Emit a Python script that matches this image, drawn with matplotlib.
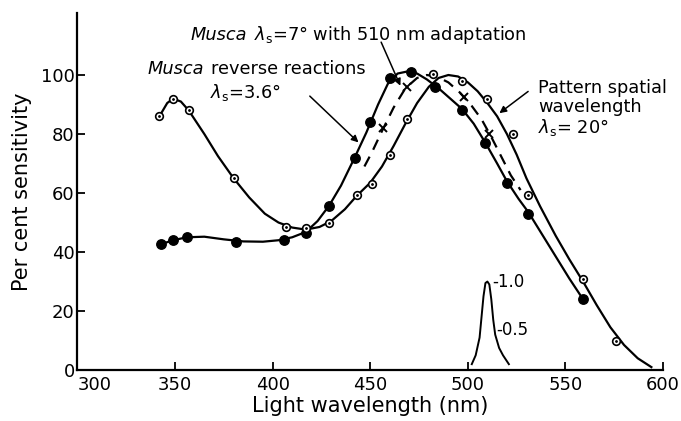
import matplotlib
matplotlib.use("Agg")
import matplotlib.pyplot as plt

# ── data ───────────────────────────────────────────────────────────────────

# Pattern spatial wavelength λs = 20°  (open circles)
open_wl  = [342, 349, 357, 380, 407, 417, 429, 443, 451, 460, 469, 482, 497, 510, 523, 531, 559, 576]
open_val = [86, 92, 88, 65, 48.5, 48, 50, 59.5, 63, 73, 85, 100.5, 98, 92, 80, 59.5, 31, 10]
open_curve_wl  = [342, 346, 349, 353, 357, 365, 372, 380, 388, 396, 403, 410, 417, 424, 430,
                  437, 443, 450, 456, 462, 468, 474, 480, 485, 490, 495, 500, 505, 510, 515,
                  520, 525, 530, 537, 545, 552, 559, 566, 573, 580, 587, 594]
open_curve_val = [86, 90.5, 92, 91, 88, 80, 72.5, 65, 58.5, 53, 50, 48.3, 47.6, 48.5, 50.5,
                  54.5, 59, 63.5, 69, 76, 83.5, 90.5, 96, 99, 100, 99.5, 97.5, 94.5, 90.5, 86,
                  80, 73, 65, 55.5, 45.5, 37.5, 30, 22, 14.5, 8.5, 4, 1]

# Musca reverse reactions λs = 3.6°  (filled circles)
fill_wl  = [343, 349, 356, 381, 406, 417, 429, 442, 450, 460, 471, 483, 497, 509, 520, 531, 559]
fill_val = [42.7, 44, 45, 43.5, 44, 46.5, 55.5, 72, 84, 99, 101, 96, 88, 77, 63.5, 53, 24]
fill_curve_wl  = [343, 349, 356, 365, 375, 385, 395, 403, 410, 417, 423, 429, 435, 442, 448,
                  454, 459, 464, 469, 474, 479, 485, 491, 497, 503, 509, 515, 520, 526, 531,
                  538, 545, 552, 559]
fill_curve_val = [42.7, 44, 45, 45.2, 44.3, 43.6, 43.5, 44, 45, 46.8, 50.5, 55.8, 62.5, 72, 80.5,
                  90, 97, 100.5, 101.2, 100.5, 98.5, 95.5, 92, 88.5, 83.5, 77, 70, 64, 58, 53.5,
                  46, 38.5, 31, 24]

# Musca λs = 7° with 510 nm adaptation  (crosses, dashed)
cross_wl  = [456.5, 469, 498, 511]
cross_val = [82, 96, 92.5, 80]
dash_wl  = [447, 451, 456, 462, 468, 474, 479, 484, 490, 496, 502, 507, 512, 517, 522, 527]
dash_val = [69, 74, 81, 89, 95.5, 99, 100, 99.5, 97.5, 94, 89.5, 85, 79, 72.5, 66, 61]

# 510 nm adapting light spectrum (scale: 1.0 -> 30 units)
adapt_wl  = [502, 504, 506, 507, 508, 509, 510, 511, 512, 513, 514, 516, 518, 521]
adapt_val = [2, 5, 11, 18, 25, 29.5, 30, 29, 24, 17, 12, 7.5, 5, 2]

x_ticks = [300, 350, 400, 450, 500, 550, 600]
y_ticks = [0, 20, 40, 60, 80, 100]

# ── plot ───────────────────────────────────────────────────────────────────

plt.rcParams["font.family"] = "DejaVu Sans"

fig = plt.figure(figsize=(6.81, 4.21), dpi=100)
ax = fig.add_axes([0.1137, 0.121, 0.86, 0.848])

lw = 1.6
ax.plot(open_curve_wl, open_curve_val, color="black", lw=lw)
ax.plot(fill_curve_wl, fill_curve_val, color="black", lw=lw)
ax.plot(dash_wl, dash_val, color="black", lw=lw, dashes=(5, 3.5))
ax.plot(adapt_wl, adapt_val, color="black", lw=1.4)

ax.plot(fill_wl, fill_val, "o", ms=6.8, color="black")
ax.plot(open_wl, open_val, "o", ms=5.5, mfc="white", mec="black", mew=1.2)
ax.plot(open_wl, open_val, ".", ms=2, color="black")
ax.plot(cross_wl, cross_val, "x", ms=6, mew=1.4, color="black")

ax.set_xlim(300, 600)
ax.set_ylim(0, 121)
ax.set_xticks(x_ticks)
ax.set_yticks(y_ticks)
ax.tick_params(direction="in", length=6, width=1.3, labelsize=13, pad=4)
ax.tick_params(axis="y", pad=2)
# first x label sits right of its tick, clear of the "0"
ax.get_xticklabels()[0].set_horizontalalignment("left")
for s in ["top", "right"]:
    ax.spines[s].set_visible(False)
for s in ["left", "bottom"]:
    ax.spines[s].set_linewidth(1.6)

ax.set_xlabel("Light wavelength (nm)", fontsize=15, labelpad=2)
ax.set_ylabel("Per cent sensitivity", fontsize=15, labelpad=6)

# scale labels for adapting spectrum
ax.text(512.5, 30, "-1.0", fontsize=12, va="center", ha="left")
ax.text(514.5, 13.5, "-0.5", fontsize=12, va="center", ha="left")

# annotations
fs = 12.8
arrow = dict(arrowstyle="-|>", color="black", lw=1.1, mutation_scale=10)

t1 = ax.text(358, 113.5, "Musca", fontsize=fs, style="italic", ha="left", va="center")
ax.annotate(r"$\lambda_{\rm s}$=7° with 510 nm adaptation", xy=(1, 0.5), xycoords=t1,
            xytext=(5, 0), textcoords="offset points", fontsize=fs, ha="left", va="center")
ax.annotate("", xy=(466, 95.5), xytext=(455, 112), arrowprops=arrow)

t2 = ax.text(336, 102, "Musca", fontsize=fs, style="italic", ha="left", va="center")
ax.annotate("reverse reactions", xy=(1, 0.5), xycoords=t2,
            xytext=(5, 0), textcoords="offset points", fontsize=fs, ha="left", va="center")
ax.text(386, 94, r"$\lambda_{\rm s}$=3.6°", fontsize=fs, ha="center", va="center")
ax.annotate("", xy=(445, 76.5), xytext=(418, 93.5), arrowprops=arrow)

ax.text(536, 98.5, "Pattern spatial\nwavelength\n" + r"$\lambda_{\rm s}$= 20°",
        fontsize=fs, ha="left", va="top", linespacing=1.05)
ax.annotate("", xy=(515, 86.5), xytext=(532, 95), arrowprops=arrow)

fig.savefig("out.png", dpi=100)
